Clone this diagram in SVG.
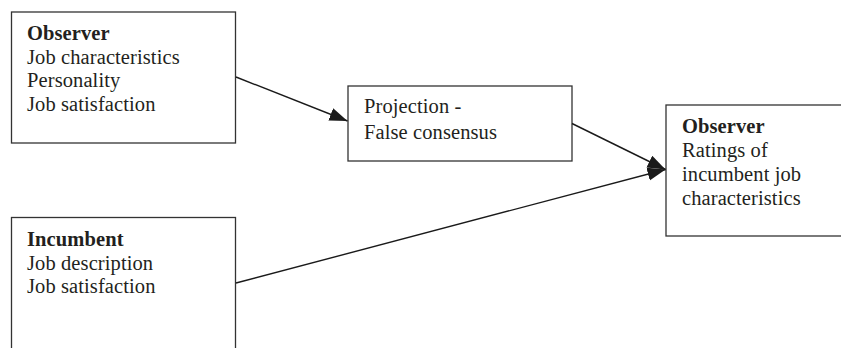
<svg xmlns="http://www.w3.org/2000/svg" width="841" height="348" viewBox="0 0 841 348">
<style>
.box{fill:#fff;stroke:#333;stroke-width:1.3}
text{font-family:"Liberation Serif","Times New Roman",serif;font-size:20.5px;letter-spacing:0.1px;fill:#231f20}
.b{font-weight:bold}
.conn{stroke:#1a1a1a;stroke-width:1.4;fill:none}
</style>
<defs>
<marker id="ah" markerUnits="userSpaceOnUse" markerWidth="20" markerHeight="14" refX="18" refY="6.5" orient="auto">
<path d="M0,0 L18,6.5 L0,13 z" fill="#1a1a1a"/>
</marker>
</defs>
<rect width="841" height="348" fill="#fff"/>
<g id="observer-inputs">
<rect class="box" x="11.5" y="12" width="224" height="131"/>
<text x="27" y="40"><tspan class="b">Observer</tspan><tspan x="27" y="63.5">Job characteristics</tspan><tspan x="27" y="87">Personality</tspan><tspan x="27" y="110.5">Job satisfaction</tspan></text>
</g>
<g id="projection">
<rect class="box" x="348" y="86" width="224" height="75"/>
<text x="364" y="113"><tspan>Projection -</tspan><tspan x="364" y="139">False consensus</tspan></text>
</g>
<g id="observer-ratings">
<rect class="box" x="666" y="105" width="200" height="131"/>
<text x="682" y="133"><tspan class="b">Observer</tspan><tspan x="682" y="157">Ratings of</tspan><tspan x="682" y="181">incumbent job</tspan><tspan x="682" y="205">characteristics</tspan></text>
</g>
<g id="incumbent">
<rect class="box" x="11.5" y="217.5" width="224" height="140"/>
<text x="27" y="246"><tspan class="b">Incumbent</tspan><tspan x="27" y="269.5">Job description</tspan><tspan x="27" y="293">Job satisfaction</tspan></text>
</g>
<g id="connectors">
<line class="conn" x1="236" y1="77" x2="347.5" y2="121" marker-end="url(#ah)"/>
<line class="conn" x1="572" y1="123.5" x2="665.5" y2="169.5" marker-end="url(#ah)"/>
<line class="conn" x1="236" y1="283" x2="665.5" y2="169.5" marker-end="url(#ah)"/>
</g>
</svg>
